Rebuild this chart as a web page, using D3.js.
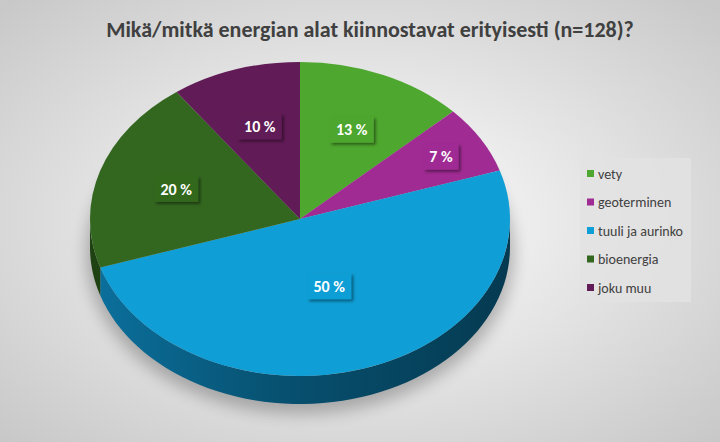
<!DOCTYPE html>
<html>
<head>
<meta charset="utf-8">
<script src="https://cdn.jsdelivr.net/npm/d3@7.9.0/dist/d3.min.js"></script>
<style>
  body { margin: 0; }
  svg { display: block; font-family: Calibri, Carlito, "Open Sans", sans-serif; }
</style>
</head>
<body>
<svg id="chart" width="720" height="442"></svg>
<script>
const categories = ["vety", "geoterminen", "tuuli ja aurinko", "bioenergia", "joku muu"];
const values = [13, 7, 50, 20, 10];
const colors = ["#4ea72e", "#a02b93", "#0f9ed5", "#33671f", "#611b56"];
const sideColors = ["#2f6a1b", "#651a5c", "#0a6890", "#1f4213", "#3c1035"];
const title = "Mikä/mitkä energian alat kiinnostavat erityisesti (n=128)?";

const svg = d3.select("#chart");
const W = 720, H = 442;
const cx = 300, cy = 219, rx = 210, ry = 157, depth = 28;

const defs = svg.append("defs");
const bg = defs.append("radialGradient").attr("id", "bg").attr("cx", "50%").attr("cy", "50%").attr("r", "70%");
bg.append("stop").attr("offset", "0%").attr("stop-color", "#ffffff");
bg.append("stop").attr("offset", "100%").attr("stop-color", "#c8c8c8");
const sg = defs.append("linearGradient").attr("id", "side").attr("x1", "0").attr("x2", "1");
sg.append("stop").attr("offset", "0%").attr("stop-color", "#0b6f9b");
sg.append("stop").attr("offset", "45%").attr("stop-color", "#07506f");
sg.append("stop").attr("offset", "100%").attr("stop-color", "#053a51");
const sh = defs.append("filter").attr("id", "shadow").attr("x", "-30%").attr("y", "-30%").attr("width", "160%").attr("height", "160%");
sh.append("feDropShadow").attr("dx", 2).attr("dy", 2).attr("stdDeviation", 1.5).attr("flood-opacity", 0.45);
const ps = defs.append("filter").attr("id", "pieShadow").attr("x", "-20%").attr("y", "-20%").attr("width", "140%").attr("height", "140%");
ps.append("feGaussianBlur").attr("stdDeviation", 8);

svg.append("rect").attr("width", W).attr("height", H).attr("fill", "url(#bg)");

svg.append("text").attr("x", 370).attr("y", 37).attr("text-anchor", "middle")
  .attr("font-size", 22).attr("font-weight", "bold").attr("fill", "#404040").text(title);

const pie = d3.pie().sort(null).value(d => d)(values);

// map pie angle (0 = top, clockwise) to point on ellipse
const pt = (a, k = 1, dy = 0) => [cx + k * rx * Math.sin(a), cy - k * ry * Math.cos(a) + dy];

// soft shadow under pie
svg.append("ellipse").attr("cx", cx).attr("cy", cy + depth + 6).attr("rx", rx + 4).attr("ry", ry + 4)
  .attr("fill", "#000").attr("opacity", 0.25).attr("filter", "url(#pieShadow)");

// side walls (front half only)
const line = d3.line();
pie.forEach((d, i) => {
  const a0 = Math.max(d.startAngle, Math.PI / 2), a1 = Math.min(d.endAngle, 3 * Math.PI / 2);
  if (a1 <= a0) return;
  const n = 60, top = [], bot = [];
  for (let j = 0; j <= n; j++) {
    const a = a0 + (a1 - a0) * j / n;
    top.push(pt(a));
    bot.unshift(pt(a, 1, depth));
  }
  svg.append("path").attr("d", line(top.concat(bot)) + "Z")
    .attr("fill", i === 2 ? "url(#side)" : sideColors[i]);
});

// top faces
const arc = d3.arc().innerRadius(0).outerRadius(rx);
svg.append("g").attr("transform", `translate(${cx},${cy}) scale(1,${ry / rx})`)
  .selectAll("path").data(pie).join("path")
  .attr("d", arc).attr("fill", (d, i) => colors[i]);

// data labels
const labelK = [0.62, 0.78, 0.45, 0.62, 0.62];
pie.forEach((d, i) => {
  const mid = (d.startAngle + d.endAngle) / 2;
  const [x, y] = pt(mid, labelK[i]);
  const txt = values[i] + " %";
  const w = txt.length * 9 + 8;
  const g = svg.append("g").attr("transform", `translate(${x},${y})`);
  g.append("rect").attr("x", -w / 2).attr("y", -13).attr("width", w).attr("height", 26)
    .attr("fill", colors[i]).attr("filter", "url(#shadow)");
  g.append("text").attr("text-anchor", "middle").attr("dy", "0.35em")
    .attr("font-size", 16).attr("font-weight", "bold").attr("fill", "#fff").text(txt);
});

// legend
const lg = svg.append("g").attr("transform", "translate(580,158)");
lg.append("rect").attr("width", 111).attr("height", 144).attr("fill", "#e2e2e2").attr("opacity", 0.8);
const ly = d3.scalePoint().domain(categories).range([16, 130]);
categories.forEach((c, i) => {
  lg.append("rect").attr("x", 7).attr("y", ly(c) - 4).attr("width", 7).attr("height", 7).attr("fill", colors[i]);
  lg.append("text").attr("x", 18).attr("y", ly(c)).attr("dy", "0.35em")
    .attr("font-size", 14).attr("fill", "#404040").text(c);
});
</script>
</body>
</html>
